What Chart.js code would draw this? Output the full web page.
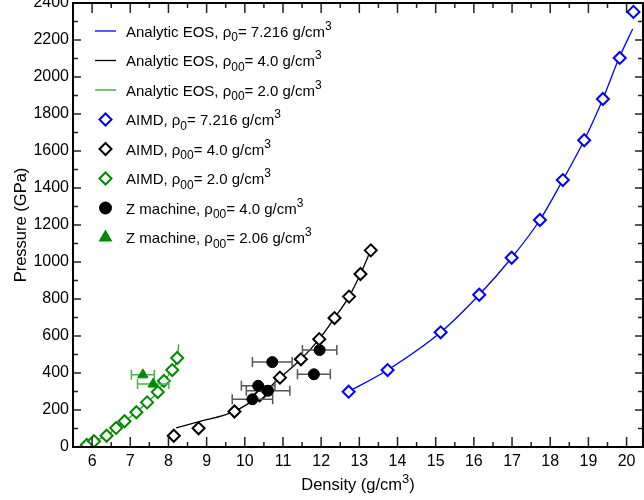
<!DOCTYPE html>
<html>
<head>
<meta charset="utf-8">
<script src="https://cdn.jsdelivr.net/npm/chart.js@4.4.1/dist/chart.umd.min.js"></script>
<style>
  html, body { margin: 0; padding: 0; background: #fff; }
  #wrap { width: 644px; height: 500px; }
</style>
</head>
<body>
<div id="wrap"><canvas id="eos" width="644" height="500"></canvas></div>
<script>
// axis ticks
const xTicks = [6, 7, 8, 9, 10, 11, 12, 13, 14, 15, 16, 17, 18, 19, 20];
const yTicks = [0, 200, 400, 600, 800, 1000, 1200, 1400, 1600, 1800, 2000, 2200, 2400];

// analytic EOS curves
const eosBlueX = [12.72, 13.74, 15.13, 16.14, 16.99, 17.73, 18.33, 18.89, 19.38, 19.80, 20.16];
const eosBlueY = [299, 416, 620, 823, 1023, 1227, 1443, 1658, 1881, 2101, 2259];
const eosBlackX = [8.20, 8.80, 9.73, 10.40, 10.92, 11.47, 11.95, 12.35, 12.73, 13.03, 13.32];
const eosBlackY = [103, 137, 193, 279, 374, 474, 583, 697, 813, 935, 1075];
const eosGreenX = [5.77, 5.86, 6.05, 6.38, 6.63, 6.85, 7.16, 7.44, 7.72, 7.88, 8.10, 8.23, 8.27];
const eosGreenY = [0, 12, 32, 62, 102, 139, 188, 241, 297, 356, 416, 481, 555];

// AIMD points
const aimdBlueX = [12.72, 13.74, 15.13, 16.14, 16.99, 17.73, 18.33, 18.89, 19.38, 19.82, 20.18];
const aimdBlueY = [299, 416, 620, 823, 1023, 1227, 1443, 1658, 1881, 2103, 2352];
const aimdBlackX = [8.14, 8.79, 9.73, 10.39, 10.92, 11.47, 11.95, 12.35, 12.73, 13.03, 13.30];
const aimdBlackY = [61, 101, 192, 279, 375, 474, 583, 697, 813, 935, 1063];
const aimdGreenX = [5.86, 6.05, 6.38, 6.63, 6.85, 7.16, 7.44, 7.72, 7.88, 8.10, 8.23];
const aimdGreenY = [11, 31, 61, 103, 139, 188, 241, 297, 357, 416, 481];

// Z machine points, x error = half width
const zBlackX = [10.72, 11.96, 11.81, 10.35, 10.61, 10.20];
const zBlackY = [459, 524, 393, 331, 304, 258];
const zBlackErr = [0.52, 0.45, 0.43, 0.44, 0.57, 0.53];
const zGreenX = [7.33, 7.60];
const zGreenY = [390, 340];
const zGreenErr = [0.30, 0.41];

const BLUE = '#0000ff';
const BLACK = '#000000';
const GREEN_LINE = '#2f9f2f';
const GREEN = '#008a00';
const FONT = "'Liberation Sans', Arial, sans-serif";

const pts = (xs, ys) => xs.map((x, i) => ({x: x, y: ys[i]}));

const lineSet = (label, xs, ys, color) => ({
  label: label, data: pts(xs, ys), showLine: true, borderColor: color,
  borderWidth: 1.3, pointRadius: 0, cubicInterpolationMode: 'monotone', order: 3
});
const diamondSet = (label, xs, ys, color) => ({
  label: label, data: pts(xs, ys), pointStyle: 'rectRot', pointRadius: 6,
  borderColor: color, backgroundColor: '#ffffff', borderWidth: 2, order: 2
});

const datasets = [
  lineSet('Analytic EOS, ρ_{0}= 7.216 g/cm^{3}', eosBlueX, eosBlueY, BLUE),
  lineSet('Analytic EOS, ρ_{00}= 4.0 g/cm^{3}', eosBlackX, eosBlackY, BLACK),
  lineSet('Analytic EOS, ρ_{00}= 2.0 g/cm^{3}', eosGreenX, eosGreenY, GREEN_LINE),
  diamondSet('AIMD, ρ_{0}= 7.216 g/cm^{3}', aimdBlueX, aimdBlueY, BLUE),
  diamondSet('AIMD, ρ_{00}= 4.0 g/cm^{3}', aimdBlackX, aimdBlackY, BLACK),
  diamondSet('AIMD, ρ_{00}= 2.0 g/cm^{3}', aimdGreenX, aimdGreenY, GREEN),
  {
    label: 'Z machine, ρ_{00}= 4.0 g/cm^{3}', data: pts(zBlackX, zBlackY),
    pointStyle: 'circle', pointRadius: 5.5, borderWidth: 1,
    borderColor: BLACK, backgroundColor: BLACK, order: 1,
    xErr: zBlackErr, errColor: '#555555'
  },
  {
    label: 'Z machine, ρ_{00}= 2.06 g/cm^{3}', data: pts(zGreenX, zGreenY),
    pointStyle: 'triangle', pointRadius: 6, borderWidth: 1,
    borderColor: GREEN, backgroundColor: GREEN, order: 1,
    xErr: zGreenErr, errColor: '#4cb04c'
  }
];

// split "a_{b}c^{d}" into plain / sub / sup pieces
function richParts(s) {
  const out = [];
  const re = /([_^])\{([^}]*)\}/g;
  let last = 0, m;
  while ((m = re.exec(s))) {
    if (m.index > last) out.push({t: s.slice(last, m.index), k: ''});
    out.push({t: m[2], k: m[1]});
    last = re.lastIndex;
  }
  if (last < s.length) out.push({t: s.slice(last), k: ''});
  return out;
}

function drawRich(ctx, s, x, y, size, align) {
  const small = Math.round(size * 0.78);
  const parts = richParts(s);
  let w = 0;
  parts.forEach(p => {
    ctx.font = (p.k ? small : size) + 'px ' + FONT;
    p.w = ctx.measureText(p.t).width;
    w += p.w;
  });
  let cx = align === 'center' ? x - w / 2 : x;
  ctx.textAlign = 'left';
  ctx.textBaseline = 'alphabetic';
  parts.forEach(p => {
    ctx.font = (p.k ? small : size) + 'px ' + FONT;
    const dy = p.k === '_' ? size * 0.3 : p.k === '^' ? -size * 0.44 : 0;
    ctx.fillText(p.t, cx, y + dy);
    cx += p.w;
  });
}

// horizontal error bars, drawn just under their own dataset
const errorBars = {
  id: 'errorBars',
  beforeDatasetDraw(chart, args) {
    const ds = chart.data.datasets[args.index];
    if (!ds.xErr) return;
    const {ctx, scales: {x, y}} = chart;
    ctx.save();
    ctx.strokeStyle = ds.errColor;
    ctx.lineWidth = 1.5;
    ctx.beginPath();
    ds.data.forEach((p, i) => {
      const x0 = x.getPixelForValue(p.x - ds.xErr[i]);
      const x1 = x.getPixelForValue(p.x + ds.xErr[i]);
      const py = y.getPixelForValue(p.y);
      ctx.moveTo(x0, py); ctx.lineTo(x1, py);
      ctx.moveTo(x0, py - 5); ctx.lineTo(x0, py + 5);
      ctx.moveTo(x1, py - 5); ctx.lineTo(x1, py + 5);
    });
    ctx.stroke();
    ctx.restore();
  }
};

// box with inward ticks on all four sides, axis titles, legend
const frame = {
  id: 'frame',
  afterDraw(chart) {
    const {ctx, chartArea: a, scales: {x, y}} = chart;
    ctx.save();
    ctx.strokeStyle = '#222';
    ctx.lineWidth = 1.5;
    ctx.beginPath();
    const seg = (x0, y0, x1, y1) => { ctx.moveTo(x0, y0); ctx.lineTo(x1, y1); };
    xTicks.forEach(v => {
      const px = x.getPixelForValue(v);
      seg(px, a.bottom, px, a.bottom - 10);
      seg(px, a.top, px, a.top + 10);
      const pm = x.getPixelForValue(v + 0.5);
      if (v + 0.5 < x.max) {
        seg(pm, a.bottom, pm, a.bottom - 5);
        seg(pm, a.top, pm, a.top + 5);
      }
    });
    yTicks.forEach(v => {
      const py = y.getPixelForValue(v);
      seg(a.left, py, a.left + 8, py);
      seg(a.right, py, a.right - 8, py);
      if (v + 100 < y.max) {
        const pm = y.getPixelForValue(v + 100);
        seg(a.left, pm, a.left + 5, pm);
        seg(a.right, pm, a.right - 5, pm);
      }
    });
    ctx.stroke();
    ctx.strokeStyle = '#000';
    ctx.lineWidth = 2;
    ctx.strokeRect(a.left, a.top, a.right - a.left, a.bottom - a.top);

    // axis titles
    ctx.fillStyle = '#000';
    drawRich(ctx, 'Density (g/cm^{3})', (a.left + a.right) / 2, 490, 16.5, 'center');
    ctx.save();
    ctx.translate(26, (a.top + a.bottom) / 2);
    ctx.rotate(-Math.PI / 2);
    drawRich(ctx, 'Pressure (GPa)', 0, 0, 16.5, 'center');
    ctx.restore();

    // legend
    chart.data.datasets.forEach((ds, i) => {
      const cy = 31 + i * 29.5;
      ctx.save();
      if (ds.showLine) {
        ctx.strokeStyle = ds.borderColor;
        ctx.lineWidth = 1.3;
        ctx.beginPath();
        ctx.moveTo(95, cy); ctx.lineTo(116, cy);
        ctx.stroke();
      } else {
        ctx.strokeStyle = ds.borderColor;
        ctx.fillStyle = ds.backgroundColor;
        Chart.helpers.drawPoint(ctx, {
          pointStyle: ds.pointStyle, radius: ds.pointRadius, rotation: 0,
          borderWidth: ds.borderWidth
        }, 105.5, cy);
      }
      ctx.restore();
      ctx.fillStyle = '#000';
      drawRich(ctx, ds.label, 126, cy + 5.5, 15, 'left');
    });
    ctx.restore();
  }
};

new Chart(document.getElementById('eos'), {
  type: 'scatter',
  data: {datasets: datasets},
  plugins: [errorBars, frame],
  options: {
    responsive: false,
    devicePixelRatio: 1,
    animation: false,
    layout: {autoPadding: false, padding: {top: 3, right: 1, left: 0, bottom: 0}},
    plugins: {legend: {display: false}, tooltip: {enabled: false}},
    scales: {
      x: {
        type: 'linear', min: 5.5, max: 20.43,
        afterFit: s => { s.height = 53; s.paddingLeft = 0; s.paddingRight = 0; },
        afterBuildTicks: s => { s.ticks = xTicks.map(v => ({value: v})); },
        grid: {display: false, drawTicks: false},
        border: {display: false},
        ticks: {color: '#000', padding: 5, maxRotation: 0, autoSkip: false,
                font: {family: FONT, size: 16}, callback: v => String(v)}
      },
      y: {
        type: 'linear', min: 0, max: 2400,
        afterFit: s => { s.width = 73; s.paddingTop = 0; s.paddingBottom = 0; },
        afterBuildTicks: s => { s.ticks = yTicks.map(v => ({value: v})); },
        grid: {display: false, drawTicks: false},
        border: {display: false},
        ticks: {color: '#000', padding: 4, autoSkip: false,
                font: {family: FONT, size: 16}, callback: v => String(v)}
      }
    }
  }
});
</script>
</body>
</html>
